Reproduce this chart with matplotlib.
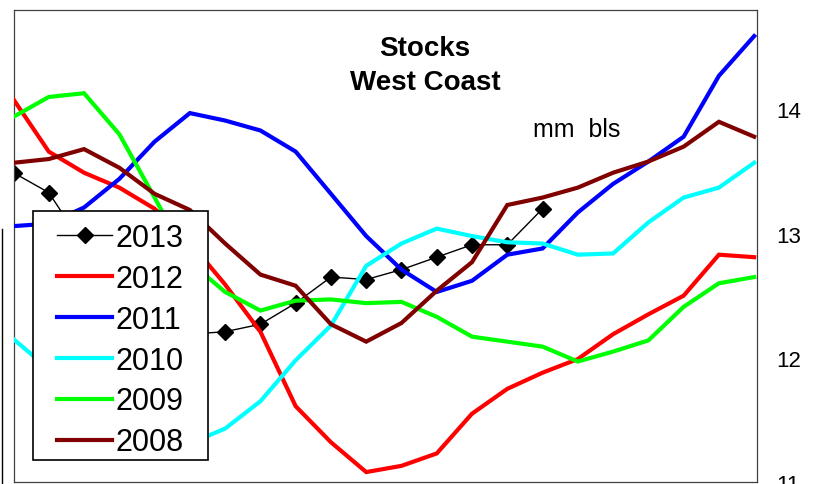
import matplotlib
matplotlib.use("Agg")
import matplotlib.pyplot as plt
from matplotlib.lines import Line2D
from matplotlib.patches import Rectangle
import numpy as np

plt.rcParams['font.family'] = ['Liberation Sans', 'DejaVu Sans']

# weekly index
weeks = list(range(22))

s2013 = [13.49, 13.33, 12.90, 12.55, 12.31, 12.19, 12.21, 12.27, 12.44, 12.65,
         12.63, 12.71, 12.81, 12.91, 12.91, 13.20]
s2012 = [14.08, 13.66, 13.49, 13.37, 13.20, 12.93, 12.59, 12.21, 11.61, 11.32, 11.08,
         11.13, 11.23, 11.55, 11.75, 11.88, 11.99, 12.19, 12.35, 12.50, 12.83, 12.81]
s2011 = [13.06, 13.08, 13.21, 13.44, 13.74, 13.97, 13.91, 13.83, 13.66, 13.32, 12.98,
         12.71, 12.53, 12.62, 12.83, 12.88, 13.17, 13.40, 13.58, 13.78, 14.27, 14.59]
s2010 = [12.15, 11.91, 11.63, 11.43, 11.31, 11.31, 11.43, 11.65, 11.98, 12.26, 12.74,
         12.92, 13.04, 12.98, 12.93, 12.92, 12.83, 12.84, 13.09, 13.29, 13.37, 13.57]
s2009 = [13.94, 14.10, 14.13, 13.80, 13.29, 12.77, 12.53, 12.38, 12.46, 12.47, 12.44,
         12.45, 12.33, 12.17, 12.13, 12.09, 11.97, 12.05, 12.14, 12.41, 12.60, 12.65]
s2008 = [13.57, 13.60, 13.68, 13.53, 13.32, 13.19, 12.92, 12.67, 12.58, 12.27, 12.13,
         12.28, 12.54, 12.77, 13.23, 13.29, 13.37, 13.49, 13.58, 13.70, 13.90, 13.78]

labels = ["2013", "2012", "2011", "2010", "2009", "2008"]
colors = ["black", "#ff0000", "#0000ff", "#00ffff", "#00ff00", "#800000"]
yticks = [11, 12, 13, 14]

fig = plt.figure(figsize=(8.18, 4.85), dpi=100)
ax = fig.add_axes([13.5 / 818, 2 / 485, (757 - 13.5) / 818, (483 - 11) / 485])

series = [s2013, s2012, s2011, s2010, s2009, s2008]
handles = []
for i, (lab, col, vals) in enumerate(zip(labels, colors, series)):
    x = weeks[:len(vals)]
    if lab == "2013":
        h, = ax.plot(x, vals, color=col, lw=1.0, marker='D', markersize=8,
                     markerfacecolor='black', markeredgecolor='black',
                     label=lab, zorder=2, clip_on=True)
    else:
        h, = ax.plot(x, vals, color=col, lw=3.0, label=lab, zorder=2 + i,
                     solid_joinstyle='miter')
    handles.append(h)

ax.set_xlim(0, 21.08)
ax.set_ylim(11, 14.8)
ax.set_xticks([])
ax.yaxis.tick_right()
ax.set_yticks(yticks)
ax.set_yticklabels([str(t) for t in yticks], fontsize=16)
ax.tick_params(axis='y', length=0, pad=14)
for sp in ax.spines.values():
    sp.set_color('#404040')
    sp.set_linewidth(0.9)

fig.text(425 / 818, 1 - 49 / 485, "Stocks", ha='center', va='center',
         fontsize=20, fontweight='bold')
fig.text(425 / 818, 1 - 83 / 485, "West Coast", ha='center', va='center',
         fontsize=20, fontweight='bold')
fig.text(577 / 818, 1 - 130 / 485, "mm  bls", ha='center', va='center', fontsize=18)

# legend box (drawn separately for independent padding)
box = Rectangle((33 / 818, 1 - 461 / 485), 175 / 818, 249 / 485,
                transform=fig.transFigure, facecolor='white', edgecolor='black',
                lw=1.2, zorder=19, clip_on=False)
ax.add_patch(box)

leg = ax.legend(handles=handles, loc='upper left',
                bbox_to_anchor=(57 / 818, 1 - 224 / 485), bbox_transform=fig.transFigure,
                fontsize=22, frameon=False,
                handlelength=1.8, handletextpad=0.12, labelspacing=0.355,
                borderpad=0, borderaxespad=0)
leg.set_zorder(20)

# fragment of neighbouring frame at far left
fig.add_artist(Line2D([2 / 818, 2 / 818], [0, 1 - 230 / 485], color='black', lw=1.0))

fig.savefig("out.png", dpi=100)
